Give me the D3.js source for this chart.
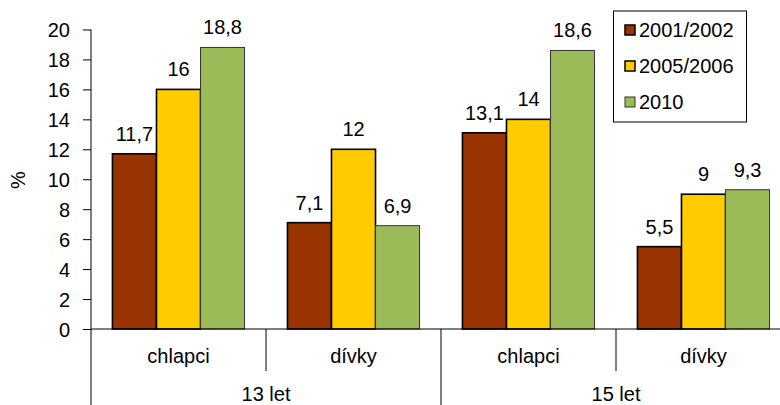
<!DOCTYPE html>
<html><head><meta charset="utf-8">
<script src="https://cdn.jsdelivr.net/npm/d3@7"></script>
<style>body{margin:0;background:#fff}svg{display:block}text{font-family:"Liberation Sans",Arial,sans-serif;fill:#000}</style>
</head><body><svg id="c" width="780" height="405"></svg>
<script>
const categories = ["chlapci","dívky","chlapci","dívky"];
const groups = ["13 let","15 let"];
const seriesNames = ["2001/2002","2005/2006","2010"];
const s2001 = [11.7, 7.1, 13.1, 5.5];
const s2005 = [16, 12, 14, 9];
const s2010 = [18.8, 6.9, 18.6, 9.3];
const yTicks = [0,2,4,6,8,10,12,14,16,18,20];
const colors = ["#993300","#FFCC00","#9BBB59"];
const strokes = ["#000","#000","#333"];
const strokeW = [1.6,1.6,1];

const series = [s2001, s2005, s2010];
const svg = d3.select("#c");
const FS = "20px";
const x0 = 91, x1 = 791, yTop = 29.5, yBot = 329;
const idx = categories.map((c,i)=>i);
const x = d3.scaleBand().domain(idx).range([x0,x1]).paddingInner(0).paddingOuter(0);
const xs = d3.scaleBand().domain([0,1,2]).range([0, x.bandwidth()]).paddingInner(0).paddingOuter(0.487);
const y = d3.scaleLinear().domain([0,20]).range([yBot,yTop]);
const fmt = v => String(v).replace(".", ",");

// y axis
const yAxis = d3.axisLeft(y).tickValues(yTicks).tickSize(8).tickPadding(13).tickFormat(d=>d);
const ga = svg.append("g").attr("transform",`translate(${x0},0)`).call(yAxis);
ga.select(".domain").remove();
ga.selectAll("line").attr("stroke","#000");
ga.selectAll("text").style("font-size",FS).attr("fill","#000").attr("dy","0.35em");
svg.append("line").attr("x1",x0).attr("x2",x0).attr("y1",yTop).attr("y2",405).attr("stroke","#000");
svg.append("text").attr("transform",`translate(25,180) rotate(-90)`).attr("text-anchor","middle").style("font-size",FS).text("%");

// bars
series.forEach((s,si)=>{
  svg.append("g").selectAll("rect").data(s).join("rect")
    .attr("x",(d,i)=>x(i)+xs(si)).attr("width",xs.bandwidth())
    .attr("y",d=>y(d)).attr("height",d=>yBot-y(d))
    .attr("fill",colors[si]).attr("stroke",strokes[si]).attr("stroke-width",strokeW[si]);
  svg.append("g").selectAll("text").data(s).join("text")
    .attr("x",(d,i)=>x(i)+xs(si)+xs.bandwidth()/2).attr("y",d=>y(d)-13)
    .attr("text-anchor","middle").style("font-size",FS).text(fmt);
});

// x axis baseline
svg.append("line").attr("x1",x0).attr("x2",780).attr("y1",yBot).attr("y2",yBot).attr("stroke","#000");
// category separators & labels
idx.forEach(i=>{
  const xr = x(i)+x.bandwidth();
  const isGroupEnd = (i%2===1);
  if (xr < 780) svg.append("line").attr("x1",xr).attr("x2",xr).attr("y1",yBot).attr("y2",isGroupEnd?405:371).attr("stroke","#000");
  svg.append("text").attr("x",x(i)+x.bandwidth()/2).attr("y",363).attr("text-anchor","middle").style("font-size",FS).text(categories[i]);
});
groups.forEach((g,gi)=>{
  const gx = (x(gi*2) + x(gi*2+1)+x.bandwidth())/2;
  svg.append("text").attr("x",gx).attr("y",401).attr("text-anchor","middle").style("font-size",FS).text(g);
});

// legend
const lg = svg.append("g");
lg.append("rect").attr("x",613.5).attr("y",11).attr("width",133).attr("height",111).attr("fill","#fff").attr("stroke","#000").attr("stroke-width",1);
seriesNames.forEach((n,i)=>{
  const cy = 30 + i*36;
  lg.append("rect").attr("x",625).attr("y",cy-5).attr("width",10).attr("height",10)
    .attr("fill",colors[i]).attr("stroke",strokes[i]).attr("stroke-width",i<2?1.5:1);
  lg.append("text").attr("x",639).attr("y",cy+7).style("font-size",FS).text(n);
});
</script></body></html>
